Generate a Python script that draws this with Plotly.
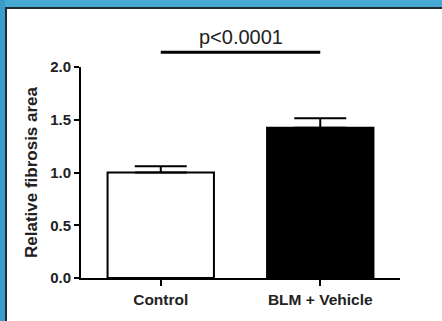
import plotly.graph_objects as go

# data
groups = ["Control", "BLM + Vehicle"]
means = [1.0, 1.425]
sem = [0.06, 0.09]
bar_fill = ["white", "black"]
y_ticks = [0.0, 0.5, 1.0, 1.5, 2.0]
sig_label = "p<0.0001"
sig_level = 2.14
y_max = 2.0

W, H = 442, 321
L, R, T, B = 81, 42, 67, 43
PW, PH = W - L - R, H - T - B


def px_x(px):
    return (px - L) / PW


def px_y(py):
    return (H - B - py) / PH


fig = go.Figure()
fig.add_trace(
    go.Bar(
        x=groups,
        y=means,
        width=0.667,
        marker=dict(color=bar_fill, line=dict(color="black", width=2)),
        error_y=dict(
            type="data",
            array=sem,
            arrayminus=[0, 0],
            symmetric=False,
            color="black",
            thickness=2,
            width=26,
        ),
        showlegend=False,
    )
)

frame = [
    (0, 0, W, 7, "#45a9d3"),
    (0, 0, 5, H, "#3a9ccb"),
    (5, 7, W, 9, "#1e2a30"),
    (5, 7, 7, H, "#1e2a30"),
]
shapes = [
    dict(type="rect", xref="paper", yref="paper", x0=px_x(a), x1=px_x(c),
         y0=px_y(d), y1=px_y(b), fillcolor=col, line=dict(width=0), layer="below")
    for a, b, c, d, col in frame
]
shapes.append(
    dict(type="line", xref="x", yref="paper", x0=groups[0], x1=groups[1],
         y0=sig_level / y_max, y1=sig_level / y_max, line=dict(color="black", width=3))
)

fig.update_layout(
    width=W,
    height=H,
    margin=dict(l=L, r=R, t=T, b=B, autoexpand=False),
    paper_bgcolor="white",
    plot_bgcolor="white",
    shapes=shapes,
    font=dict(family="Liberation Sans, Arial", color="#222"),
    annotations=[
        dict(x=0.5, xref="x", y=sig_level / y_max, yref="paper", text=sig_label,
             showarrow=False, yanchor="bottom", yshift=2,
             font=dict(size=20, color="#222"))
    ],
)
fig.update_xaxes(
    range=[-0.5, 1.5],
    showline=True,
    linecolor="black",
    linewidth=2,
    ticks="outside",
    ticklen=6,
    tickwidth=2,
    tickcolor="black",
    tickfont=dict(size=15.5, weight="bold"),
    showgrid=False,
    automargin=False,
)
fig.update_yaxes(
    range=[0, y_max],
    tickvals=y_ticks,
    tickformat=".1f",
    showline=True,
    linecolor="black",
    linewidth=2,
    ticks="outside",
    ticklen=5,
    tickwidth=2,
    tickcolor="black",
    tickfont=dict(size=15, weight="bold"),
    title=dict(text="Relative fibrosis area", font=dict(size=17, weight="bold"), standoff=8),
    showgrid=False,
    zeroline=False,
    automargin=False,
)

fig.write_html(
    "out.html",
    config={"displayModeBar": False},
    post_script="document.body.style.margin='0';",
)
